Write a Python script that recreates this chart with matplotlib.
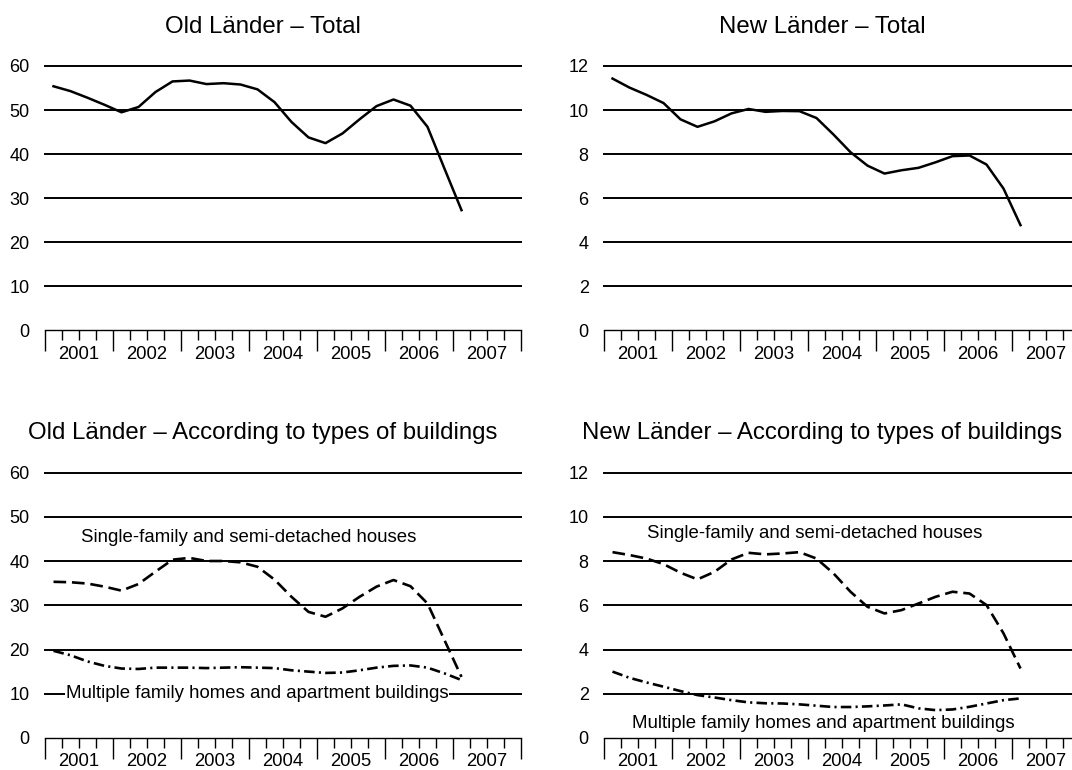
import numpy as np
import matplotlib
matplotlib.use("Agg")
import matplotlib.pyplot as plt
from matplotlib.ticker import FixedLocator, FixedFormatter

plt.rcParams['font.family'] = ['Liberation Sans', 'DejaVu Sans']

# quarterly values, 2001 Q1 .. 2007 Q1
years = ['2001', '2002', '2003', '2004', '2005', '2006', '2007']

old_total = [55.4, 54.3, 52.8, 51.2, 49.5, 50.7, 54.1, 56.5, 56.7, 55.9, 56.1, 55.8, 54.7,
             51.8, 47.3, 43.8, 42.5, 44.7, 47.9, 50.9, 52.4, 51.0, 46.2, 36.7, 27.3]
new_total = [11.43, 11.02, 10.69, 10.32, 9.58, 9.24, 9.49, 9.85, 10.05, 9.92, 9.96, 9.95, 9.64,
             8.89, 8.09, 7.48, 7.12, 7.27, 7.38, 7.63, 7.91, 7.94, 7.53, 6.44, 4.78]

old_single = [35.3, 35.2, 34.9, 34.2, 33.3, 34.8, 37.6, 40.3, 40.7, 40.0, 40.0, 39.7, 38.7,
              35.8, 31.9, 28.5, 27.4, 29.3, 31.9, 34.2, 35.7, 34.3, 30.4, 22.1, 13.8]
old_multi = [19.7, 18.7, 17.3, 16.3, 15.7, 15.6, 15.9, 15.9, 15.9, 15.8, 15.9, 16.0, 15.9,
             15.8, 15.3, 15.0, 14.7, 14.8, 15.3, 15.9, 16.3, 16.4, 15.9, 14.6, 13.1]

new_single = [8.40, 8.27, 8.11, 7.86, 7.47, 7.17, 7.51, 8.07, 8.37, 8.30, 8.34, 8.40, 8.11,
              7.44, 6.61, 5.93, 5.63, 5.78, 6.08, 6.38, 6.61, 6.53, 6.01, 4.73, 3.14]
new_multi = [3.00, 2.72, 2.51, 2.32, 2.12, 1.94, 1.83, 1.71, 1.61, 1.57, 1.56, 1.52, 1.46,
             1.40, 1.40, 1.43, 1.47, 1.52, 1.34, 1.26, 1.29, 1.41, 1.56, 1.71, 1.79]

old_ticks = [0, 10, 20, 30, 40, 50, 60]
new_ticks = [0, 2, 4, 6, 8, 10, 12]

label_single = 'Single-family and semi-detached houses'
label_multi = 'Multiple family homes and apartment buildings'

W, H = 1072, 770
fig = plt.figure(figsize=(W / 100, H / 100), dpi=100)


def make_axes(x0, y_top, y_bot, yticks):
    ax = fig.add_axes([x0 / W, 1 - y_bot / H, 476 / W, (y_bot - y_top) / H])
    ax.set_xlim(-0.5, 27.5)
    ax.set_ylim(yticks[0], yticks[-1])
    for sp in ['left', 'right', 'top']:
        ax.spines[sp].set_visible(False)
    ax.spines['bottom'].set_linewidth(1.0)
    ax.set_yticks(yticks)
    ax.set_yticklabels([str(t) for t in yticks])
    ax.tick_params(axis='y', length=0, pad=11, labelsize=13)
    for t in yticks[1:]:
        ax.axhline(t, color='black', lw=1.4, clip_on=False, zorder=1)
    # year boundaries: long ticks, quarter boundaries: short ticks
    bounds = [-0.5 + 4 * k for k in range(8)]
    ax.xaxis.set_major_locator(FixedLocator(bounds))
    ax.xaxis.set_major_formatter(FixedFormatter([''] * len(bounds)))
    qpos, qlab = [], []
    for k in range(7):
        for j in (1, 2, 3):
            qpos.append(-0.5 + 4 * k + j)
            qlab.append(years[k] if j == 2 else '')
    ax.xaxis.set_minor_locator(FixedLocator(qpos))
    ax.xaxis.set_minor_formatter(FixedFormatter(qlab))
    ax.tick_params(axis='x', which='major', length=15, width=1.0, color='black')
    ax.tick_params(axis='x', which='minor', length=7, width=1.0, color='black',
                   pad=4, labelsize=13.3)
    ax.set_facecolor('none')
    return ax


x = np.arange(len(old_total))
dash = (0, (4.8, 2.2))
dashdot = (0, (4.0, 1.6, 0.8, 1.6))

# top left
ax1 = make_axes(45, 66, 330.5, old_ticks)
ax1.plot(x, old_total, color='black', lw=1.8, zorder=3)

# top right
ax2 = make_axes(604, 66, 330.5, new_ticks)
ax2.plot(x, new_total, color='black', lw=1.8, zorder=3)

# bottom left
ax3 = make_axes(45, 472.5, 738, old_ticks)
ax3.plot(x, old_single, color='black', lw=1.9, linestyle=dash, zorder=3)
ax3.plot(x, old_multi, color='black', lw=1.9, linestyle=dashdot, zorder=3)
ax3.text(11.5, 45.2, label_single, ha='center', va='center', fontsize=13.4, zorder=4)
ax3.text(11.97, 10.0, label_multi, ha='center', va='center', fontsize=13.4, zorder=4,
         bbox=dict(boxstyle='square,pad=0.05', facecolor='white', edgecolor='none'))

# bottom right
ax4 = make_axes(604, 472.5, 738, new_ticks)
ax4.plot(x, new_single, color='black', lw=1.9, linestyle=dash, zorder=3)
ax4.plot(x, new_multi, color='black', lw=1.9, linestyle=dashdot, zorder=3)
ax4.text(11.92, 9.26, label_single, ha='center', va='center', fontsize=13.4, zorder=4)
ax4.text(12.42, 0.66, label_multi, ha='center', va='center', fontsize=13.4, zorder=4)

# panel titles
fig.text(263 / W, 1 - 33 / H, 'Old Länder – Total', ha='center', va='baseline', fontsize=17.3)
fig.text(822 / W, 1 - 33 / H, 'New Länder – Total', ha='center', va='baseline', fontsize=17.3)
fig.text(263 / W, 1 - 439 / H, 'Old Länder – According to types of buildings',
         ha='center', va='baseline', fontsize=17.3)
fig.text(822 / W, 1 - 439 / H, 'New Länder – According to types of buildings',
         ha='center', va='baseline', fontsize=17.3)

fig.savefig('out.png', dpi=100)
